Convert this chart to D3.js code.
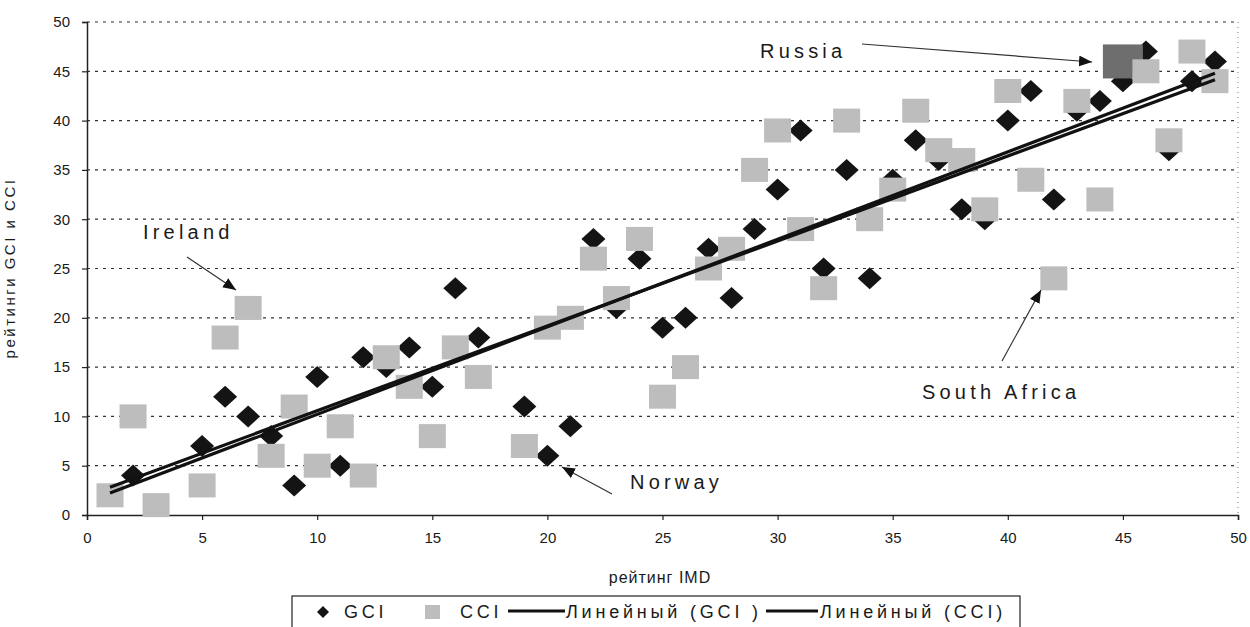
<!DOCTYPE html>
<html>
<head>
<meta charset="utf-8">
<script src="https://cdn.jsdelivr.net/npm/d3@7"></script>
<style>
  body { margin: 0; background: #fff; }
  svg text { font-family: "Liberation Sans", Arial, sans-serif; fill: #1a1a1a; }
</style>
</head>
<body>
<svg id="chart" width="1250" height="627"></svg>
<script>
// IMD rank (x) vs GCI / CCI rank (y)
const gciX = [2,5,6,7,8,9,10,11,12,13,14,15,16,17,19,20,21,22,23,24,25,26,27,28,29,30,31,32,33,34,35,36,37,38,39,40,41,42,43,44,45,46,47,48,49];
const gciY = [4,7,12,10,8,3,14,5,16,15,17,13,23,18,11,6,9,28,21,26,19,20,27,22,29,33,39,25,35,24,34,38,36,31,30,40,43,32,41,42,44,47,37,44,46];
const cciX = [1,2,3,5,6,7,8,9,10,11,12,13,14,15,16,17,19,20,21,22,23,24,25,26,27,28,29,30,31,32,33,34,35,36,37,38,39,40,41,42,43,44,45,46,47,48,49];
const cciY = [2,10,1,3,18,21,6,11,5,9,4,16,13,8,17,14,7,19,20,26,22,28,12,15,25,27,35,39,29,23,40,30,33,41,37,36,31,43,34,24,42,32,46,45,38,47,44];
const xTicks = [0,5,10,15,20,25,30,35,40,45,50];
const yTicks = [0,5,10,15,20,25,30,35,40,45,50];
const notes = [
  {label: "Russia", x: 45, y: 46},
  {label: "Ireland", x: 7, y: 21},
  {label: "Norway", x: 20, y: 6},
  {label: "South Africa", x: 42, y: 24}
];
const legendLabels = ["GCI", "CCI", "Линейный (GCI )", "Линейный (CCI)"];

const svg = d3.select("#chart");
const x = d3.scaleLinear().domain([0, 50]).range([87, 1238]);
const y = d3.scaleLinear().domain([0, 50]).range([515, 22]);

// gridlines
svg.append("g").selectAll("line")
  .data(yTicks.filter(d => d > 0))
  .join("line")
  .attr("x1", x(0)).attr("x2", x(50))
  .attr("y1", d => y(d)).attr("y2", d => y(d))
  .attr("stroke", "#333").attr("stroke-width", 1.2)
  .attr("stroke-dasharray", "3,5");
svg.append("line")
  .attr("x1", x(50)).attr("x2", x(50)).attr("y1", y(50)).attr("y2", y(0))
  .attr("stroke", "#777").attr("stroke-dasharray", "1,4");

// axes
const xAxis = svg.append("g")
  .attr("transform", `translate(0,${y(0)})`)
  .call(d3.axisBottom(x).tickValues(xTicks).tickSize(5).tickPadding(12));
const yAxis = svg.append("g")
  .attr("transform", `translate(${x(0)},0)`)
  .call(d3.axisLeft(y).tickValues(yTicks).tickSize(5).tickPadding(12));
[xAxis, yAxis].forEach(a => {
  a.select(".domain").attr("stroke", "#222").attr("stroke-width", 1.5);
  a.selectAll(".tick line").attr("stroke", "#222").attr("stroke-width", 1.2);
  a.selectAll("text").attr("font-size", 15).attr("fill", "#222");
});

svg.append("text")
  .attr("x", 660).attr("y", 583)
  .attr("text-anchor", "middle").attr("font-size", 16).attr("letter-spacing", 1)
  .text("рейтинг IMD");
svg.append("text")
  .attr("transform", "translate(15,268) rotate(-90)")
  .attr("text-anchor", "middle").attr("font-size", 15).attr("letter-spacing", 2.5)
  .text("рейтинги GCI и CCI");

// GCI diamonds
const diamond = "M0,-11L12,0L0,11L-12,0Z";
svg.append("g").selectAll("path")
  .data(gciX.map((d, i) => [d, gciY[i]]))
  .join("path")
  .attr("d", diamond)
  .attr("transform", d => `translate(${x(d[0])},${y(d[1])})`)
  .attr("fill", "#141414");

// CCI squares
svg.append("g").selectAll("rect")
  .data(cciX.map((d, i) => [d, cciY[i]]))
  .join("rect")
  .each(function(d) {
    const big = d[0] === 45;
    const w = big ? 40 : 27, h = big ? 34 : 24;
    d3.select(this)
      .attr("x", x(d[0]) - w / 2).attr("y", y(d[1]) - h / 2)
      .attr("width", w).attr("height", h)
      .attr("fill", big ? "#6e6e6e" : "#bdbdbd");
  });

// linear trend lines
function fit(xs, ys) {
  const mx = d3.mean(xs), my = d3.mean(ys);
  const b = d3.sum(xs, (v, i) => (v - mx) * (ys[i] - my)) / d3.sum(xs, v => (v - mx) * (v - mx));
  return v => my + b * (v - mx);
}
const trendRange = [1, 49];
[fit(gciX, gciY), fit(cciX, cciY)].forEach(f => {
  svg.append("line")
    .attr("x1", x(trendRange[0])).attr("y1", y(f(trendRange[0])))
    .attr("x2", x(trendRange[1])).attr("y2", y(f(trendRange[1])))
    .attr("stroke", "#111").attr("stroke-width", 3.2);
});

// annotations
svg.append("defs").append("marker")
  .attr("id", "head").attr("viewBox", "0 -5 12 10")
  .attr("refX", 12).attr("refY", 0)
  .attr("markerWidth", 13).attr("markerHeight", 11)
  .attr("markerUnits", "userSpaceOnUse").attr("orient", "auto")
  .append("path").attr("d", "M0,-5L12,0L0,5Z").attr("fill", "#111");

const noteText = {
  "Russia": {tx: 760, ty: 58, from: [862, 44], to: [1092, 62]},
  "Ireland": {tx: 143, ty: 239, from: [187, 257], to: [236, 290]},
  "Norway": {tx: 630, ty: 489, from: [612, 494], to: [562, 467]},
  "South Africa": {tx: 922, ty: 399, from: [1002, 361], to: [1041, 290]}
};
notes.forEach(n => {
  const p = noteText[n.label];
  svg.append("text")
    .attr("x", p.tx).attr("y", p.ty)
    .attr("font-size", 20).attr("letter-spacing", 4.2)
    .text(n.label);
  svg.append("line")
    .attr("x1", p.from[0]).attr("y1", p.from[1])
    .attr("x2", p.to[0]).attr("y2", p.to[1])
    .attr("stroke", "#333").attr("stroke-width", 1.2)
    .attr("marker-end", "url(#head)");
});

// legend
const lg = svg.append("g");
lg.append("rect")
  .attr("x", 292).attr("y", 596).attr("width", 728).attr("height", 40)
  .attr("fill", "#fff").attr("stroke", "#222").attr("stroke-width", 1.2);
lg.append("path").attr("d", "M0,-6L6,0L0,6L-6,0Z")
  .attr("transform", "translate(323,612)").attr("fill", "#141414");
lg.append("rect").attr("x", 425).attr("y", 605).attr("width", 15).attr("height", 14)
  .attr("fill", "#bdbdbd");
lg.append("line").attr("x1", 508).attr("x2", 565).attr("y1", 611).attr("y2", 611)
  .attr("stroke", "#111").attr("stroke-width", 3);
lg.append("line").attr("x1", 766).attr("x2", 818).attr("y1", 611).attr("y2", 611)
  .attr("stroke", "#111").attr("stroke-width", 3);
const legendX = [344, 460, 566, 820];
lg.selectAll("text.lbl")
  .data(legendLabels)
  .join("text")
  .attr("class", "lbl")
  .attr("x", (d, i) => legendX[i]).attr("y", 618)
  .attr("font-size", 18).attr("letter-spacing", 3.8)
  .text(d => d);
</script>
</body>
</html>
